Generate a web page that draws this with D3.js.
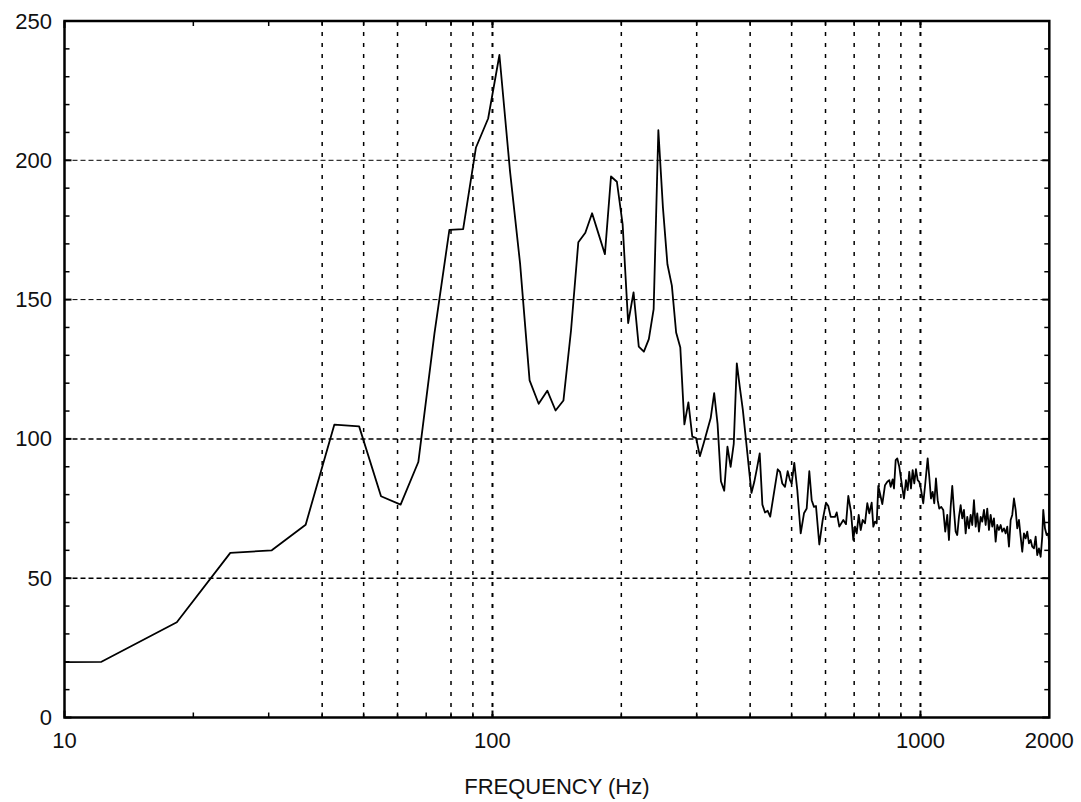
<!DOCTYPE html>
<html>
<head>
<meta charset="utf-8">
<script src="https://cdn.jsdelivr.net/npm/d3@7"></script>
<style>
  html, body { margin: 0; padding: 0; background: #fff; }
  svg { display: block; font-family: "Liberation Sans", Arial, sans-serif; }
</style>
</head>
<body>
<svg id="chart" width="1081" height="802"></svg>
<script>
// Spectrum amplitude versus frequency
const freqHz = [
  6.1, 12.2, 18.3, 24.4, 30.5, 36.6, 42.7, 48.8, 54.9, 61.0,
  67.1, 73.2, 79.3, 85.4, 91.5, 97.7, 103.8, 109.9, 116.0, 122.1,
  128.2, 134.3, 140.4, 146.5, 152.6, 158.7, 164.8, 170.9, 177.0, 183.1,
  189.2, 195.3, 201.4, 207.5, 213.6, 219.7, 225.8, 231.9, 238.0, 244.1,
  250.2, 256.3, 262.5, 268.6, 274.7, 280.8, 286.9, 293.0, 299.1, 305.2,
  311.3, 317.4, 323.5, 329.6, 335.7, 341.8, 347.9, 354.0, 360.1, 366.2,
  372.3, 378.4, 384.5, 390.6, 396.7, 402.8, 408.9, 415.0, 421.1, 427.2,
  433.3, 439.5, 445.6,
  463.9, 469.7, 475.5, 482.5, 489.5, 495.6, 500.2, 507.2, 515.5, 525.0,
  534.4, 542.2, 549.9, 557.0, 563.9, 570.0, 580.3, 591.0, 601.6, 609.0,
  617.0, 631.4, 637.2, 646.2, 660.2, 669.9, 678.2, 688.2, 696.7, 703.1,
  709.6, 717.3, 725.0, 732.9, 742.0, 751.2, 759.4, 769.2, 775.9, 783.0,
  790.2, 797.0, 804.3, 814.4, 826.3, 836.6, 845.6, 852.0, 861.2, 867.3,
  875.2, 882.8, 892.3,
  908.7, 915.1, 925.0, 933.5, 941.5, 950.2, 958.9, 967.2, 976.1, 985.1,
  993.6, 1002.7, 1015.2, 1026.2, 1039.5, 1048.5, 1058.1, 1067.8, 1077.1, 1087.0,
  1097.0, 1106.4, 1118.4, 1130.5, 1142.7, 1155.1, 1165.7, 1176.4, 1186.6, 1197.5,
  1208.5, 1218.9, 1230.1, 1241.4, 1252.2, 1263.7, 1275.3, 1286.3, 1298.1, 1310.0,
  1321.4, 1333.5, 1345.8, 1357.4, 1369.9, 1382.4, 1394.4, 1407.2, 1420.1, 1432.4,
  1445.6, 1458.8, 1471.5, 1485.0, 1498.6, 1511.6, 1525.5, 1539.5, 1552.8, 1567.1,
  1581.4, 1595.1, 1609.8, 1624.6, 1638.6, 1653.7, 1668.9, 1683.3, 1698.8, 1714.4,
  1729.2, 1745.1, 1761.1, 1776.3, 1792.7, 1809.1, 1824.8, 1841.5, 1858.4, 1874.5,
  1891.7, 1909.1, 1925.6, 1936.0, 1953.8, 1971.7, 1988.8, 2000.0
];
const amplitude = [
  19.5, 20.0, 34.2, 59.1, 60.0, 69.2, 105.1, 104.5, 79.4, 76.4,
  91.7, 138.0, 175.0, 175.3, 204.6, 215.0, 237.8, 196.0, 163.0, 121.0,
  112.6, 117.3, 110.2, 113.8, 139.0, 170.6, 174.0, 181.0, 173.5, 166.3,
  194.2, 192.3, 177.1, 141.6, 152.6, 133.1, 131.3, 135.8, 146.6, 210.8,
  183.0, 162.7, 155.0, 138.2, 132.8, 105.2, 113.1, 100.8, 100.3, 93.8,
  98.3, 102.9, 107.5, 116.4, 105.3, 84.8, 81.4, 97.2, 90.0, 98.2,
  127.1, 118.5, 110.5, 100.5, 90.5, 80.6, 84.5, 89.5, 94.8, 76.4,
  73.6, 74.2, 72.1,
  89.1, 88.2, 84.0, 82.8, 88.4, 85.2, 84.0, 91.4, 81.6, 66.1,
  73.3, 75.0, 88.4, 78.0, 75.6, 75.9, 62.1, 70.9, 77.1, 75.9,
  72.0, 72.0, 73.6, 68.5, 70.9, 69.4, 79.5, 73.8, 63.7, 68.5,
  66.1, 72.7, 67.3, 70.9, 69.7, 76.9, 73.3, 77.1, 68.5, 70.3,
  69.7, 83.1, 80.4, 76.6, 83.4, 84.6, 85.2, 82.8, 85.5, 82.2,
  92.4, 93.0, 90.0,
  81.6, 78.6, 85.2, 81.6, 88.2, 82.2, 88.8, 84.0, 89.1, 85.2,
  84.6, 81.9, 76.9, 84.0, 93.0, 86.4, 78.6, 81.0, 76.9, 85.8,
  78.0, 75.0, 75.6, 74.5, 66.7, 72.7, 63.7, 75.6, 83.1, 74.5,
  66.7, 65.5, 72.0, 76.2, 71.5, 74.5, 66.1, 72.0, 67.9, 72.7,
  69.1, 78.0, 68.5, 73.3, 66.7, 72.0, 70.3, 74.5, 69.1, 75.0,
  67.3, 72.7, 68.5, 71.5, 63.1, 69.1, 67.3, 69.1, 66.7, 67.9,
  66.1, 68.5, 61.3, 70.9, 72.7, 78.6, 74.5, 67.9, 70.9, 64.9,
  59.5, 66.1, 64.3, 66.7, 62.5, 63.7, 61.3, 60.7, 64.9, 58.3,
  60.7, 57.7, 64.9, 74.5, 67.9, 65.5, 66.1, 62.0
];

const xTickLabels = [10, 100, 1000, 2000];
const xMajorTicks = [10, 100, 1000];
const xMinorTicks = [20, 30, 40, 50, 60, 70, 80, 90, 200, 300, 400, 500, 600, 700, 800, 900];
const xGridLines = [40, 50, 60, 80, 90, 100, 200, 300, 400, 500, 600, 700, 800, 900, 1000];
const yTickLabels = [0, 50, 100, 150, 200, 250];
const yMinorTicks = [10, 20, 30, 40, 60, 70, 80, 90, 110, 120, 130, 140, 160, 170, 180, 190, 210, 220, 230, 240];
const yGridLines = [50, 100, 150, 200];
const xTitle = "FREQUENCY (Hz)";

const plotLeft = 64.5, plotRight = 1049.3, plotTop = 21, plotBottom = 717.5;

const x = d3.scaleLog().domain([10, 2000]).range([plotLeft, plotRight]);
const y = d3.scaleLinear().domain([0, 250]).range([plotBottom, plotTop]);

const svg = d3.select("#chart");

svg.append("defs").append("clipPath").attr("id", "plot-clip")
  .append("rect")
  .attr("x", plotLeft).attr("y", plotTop)
  .attr("width", plotRight - plotLeft).attr("height", plotBottom - plotTop);

// grid: dotted verticals, dashed horizontals
const grid = svg.append("g");
grid.selectAll("line.vg").data(xGridLines).join("line")
  .attr("class", "vg")
  .attr("x1", d => x(d)).attr("x2", d => x(d))
  .attr("y1", plotTop).attr("y2", plotBottom)
  .attr("stroke", "#000")
  .attr("stroke-width", d => (d === 100 || d === 1000) ? 2 : 1.5)
  .attr("stroke-dasharray", "4 7");

grid.selectAll("line.hg").data(yGridLines).join("line")
  .attr("class", "hg")
  .attr("x1", plotLeft).attr("x2", plotRight)
  .attr("y1", d => y(d)).attr("y2", d => y(d))
  .attr("stroke", "#000")
  .attr("stroke-width", d => d <= 100 ? 1.5 : 1)
  .attr("stroke-dasharray", "5 3");

// inward ticks on all four sides
const ticks = svg.append("g").attr("stroke", "#000");
function xTicks(values, len, w) {
  ticks.append("g").selectAll("line").data(values).join("line")
    .attr("x1", d => x(d)).attr("x2", d => x(d))
    .attr("y1", plotBottom).attr("y2", plotBottom - len).attr("stroke-width", w);
  ticks.append("g").selectAll("line").data(values).join("line")
    .attr("x1", d => x(d)).attr("x2", d => x(d))
    .attr("y1", plotTop).attr("y2", plotTop + len).attr("stroke-width", w);
}
function yTicks(values, len, w) {
  ticks.append("g").selectAll("line").data(values).join("line")
    .attr("x1", plotLeft).attr("x2", plotLeft + len)
    .attr("y1", d => y(d)).attr("y2", d => y(d)).attr("stroke-width", w);
  ticks.append("g").selectAll("line").data(values).join("line")
    .attr("x1", plotRight).attr("x2", plotRight - len)
    .attr("y1", d => y(d)).attr("y2", d => y(d)).attr("stroke-width", w);
}
xTicks(xMinorTicks, 5, 1.5);
xTicks(xMajorTicks, 7, 2);
yTicks(yMinorTicks, 5, 1.5);
yTicks(yTickLabels, 7, 2);

// data line
const line = d3.line()
  .x((d, i) => x(freqHz[i]))
  .y(d => y(d));

svg.append("path")
  .datum(amplitude)
  .attr("clip-path", "url(#plot-clip)")
  .attr("fill", "none")
  .attr("stroke", "#000")
  .attr("stroke-width", 1.8)
  .attr("stroke-linejoin", "round")
  .attr("d", line);

// frame
svg.append("rect")
  .attr("x", plotLeft).attr("y", plotTop)
  .attr("width", plotRight - plotLeft).attr("height", plotBottom - plotTop)
  .attr("fill", "none").attr("stroke", "#000").attr("stroke-width", 2.5);

// tick labels
svg.append("g").selectAll("text").data(xTickLabels).join("text")
  .attr("x", d => x(d)).attr("y", plotBottom + 30.5)
  .attr("text-anchor", "middle")
  .attr("font-size", 22).attr("fill", "#111")
  .text(d => d);

svg.append("g").selectAll("text").data(yTickLabels).join("text")
  .attr("x", plotLeft - 12.5).attr("y", d => y(d) + 7.5)
  .attr("text-anchor", "end")
  .attr("font-size", 22).attr("fill", "#111")
  .text(d => d);

svg.append("text")
  .attr("x", (plotLeft + plotRight) / 2).attr("y", 794)
  .attr("text-anchor", "middle")
  .attr("font-size", 22).attr("fill", "#111")
  .text(xTitle);
</script>
</body>
</html>
